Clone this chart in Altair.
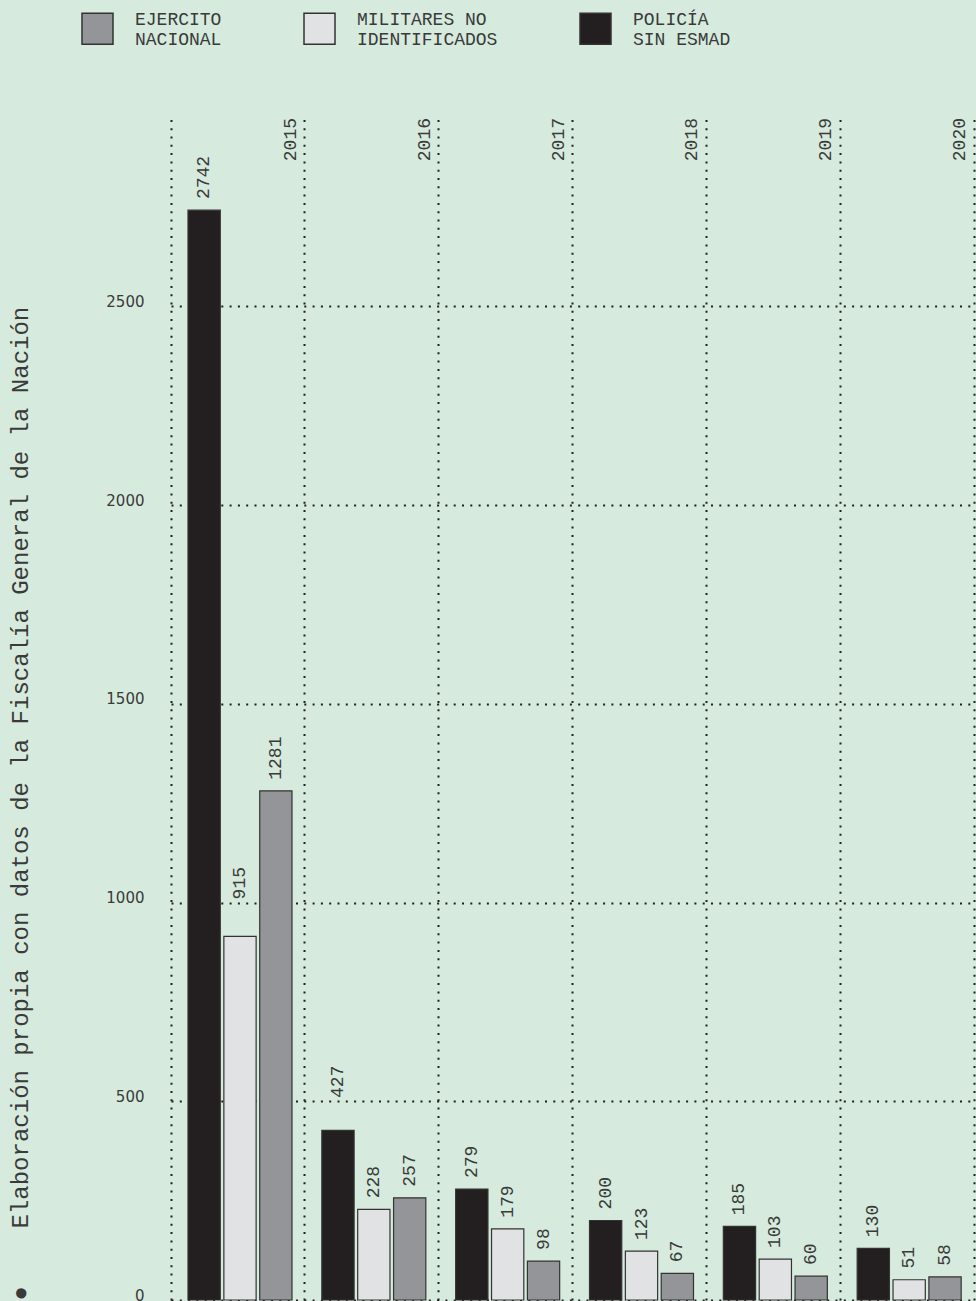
import altair as alt
import pandas as pd

# Casos por año y por institución
years = ["2015", "2016", "2017", "2018", "2019", "2020"]
policia = [2742, 427, 279, 200, 185, 130]
militares = [915, 228, 179, 123, 103, 51]
ejercito = [1281, 257, 98, 67, 60, 58]

series = ["EJERCITO|NACIONAL", "MILITARES NO|IDENTIFICADOS", "POLICÍA|SIN ESMAD"]
series_colors = ["#939598", "#e1e2e3", "#231f20"]
bar_order = [series[2], series[1], series[0]]
y_ticks = [0, 500, 1000, 1500, 2000, 2500]
caption = "●\u00a0\u00a0\u00a0\u00a0Elaboración propia con datos de la Fiscalía General de la Nación"

rows = []
for i, yr in enumerate(years):
    for name, vals in zip(series, [ejercito, militares, policia]):
        rows.append({"year": yr, "grupo": name, "valor": vals[i]})
df = pd.DataFrame(rows)
df_years = pd.DataFrame({"year": years})

MONO = "Liberation Mono"
INK = "#231f20"
TEXT = "#3a3a3a"
DOTS = [2, 6.3]

y_scale = alt.Scale(domain=[0, 2974], nice=False, zero=True)
y_axis = alt.Axis(
    values=y_ticks, format="d", grid=True, ticks=False, labelPadding=27,
    labelFont="DejaVu Sans", labelFontSize=15, labelColor=TEXT,
    labelBaseline="alphabetic",
    domain=True, domainColor=INK, domainWidth=2, domainDash=DOTS,
    title=caption, titleX=-151, titleY=1182, titleAngle=270,
    titleAlign="left", titleBaseline="middle", titleFont=MONO,
    titleFontSize=24, titleFontWeight="normal", titleColor=TEXT,
)

x_enc = alt.X(
    "year:N", sort=years,
    scale=alt.Scale(paddingInner=0, paddingOuter=0),
    axis=alt.Axis(orient="top", grid=True, bandPosition=1, labels=False,
                  ticks=False, domain=False, title=None),
)
xoff_enc = alt.XOffset(
    "grupo:N", sort=bar_order,
    scale=alt.Scale(range=[17, 121], paddingInner=0.1, paddingOuter=0),
)

bars = alt.Chart(df).mark_bar(stroke="#333333", strokeWidth=1.2).encode(
    x=x_enc,
    xOffset=xoff_enc,
    y=alt.Y("valor:Q", scale=y_scale, axis=y_axis),
    color=alt.Color(
        "grupo:N",
        scale=alt.Scale(domain=series, range=series_colors),
        legend=alt.Legend(
            title=None, orient="none", legendX=-90, legendY=-106,
            direction="horizontal", symbolType="square", symbolSize=961,
            symbolStrokeColor="#333333", symbolStrokeWidth=1.5,
            labelFont=MONO, labelFontSize=18, labelColor=TEXT,
            labelBaseline="bottom",
            labelOffset=21, columnPadding=79,
            labelExpr="split(datum.label, '|')",
            labelLimit=400, padding=0,
        ),
    ),
)

# Value labels sit just above each bar; a label that would run across a
# gridline is lifted to start just above that gridline instead.
values = alt.Chart(df).transform_calculate(
    start="datum.valor + 28",
    g="ceil(datum.start / 500) * 500",
    fin="datum.start + length(toString(datum.valor)) * 27",
    pos="datum.fin > datum.g ? datum.g + 8 : datum.start",
).mark_text(
    angle=270, align="left", baseline="middle",
    font=MONO, fontSize=18, color=TEXT,
).encode(
    x=x_enc, xOffset=xoff_enc,
    y=alt.Y("pos:Q", scale=y_scale, axis=y_axis),
    text="valor:Q",
)

year_labels = alt.Chart(df_years).mark_text(
    angle=270, align="right", baseline="middle", dy=-14,
    font=MONO, fontSize=18, color=TEXT,
).encode(
    x=alt.X("year:N", sort=years, bandPosition=1),
    y=alt.value(0),
    text="year:N",
)

chart = (
    alt.layer(bars, values, year_labels)
    .properties(
        width=803, height=1182,
        autosize=alt.AutoSizeParams(type="none"),
        padding={"left": 171, "top": 118, "right": 2, "bottom": 1},
        background="#d6ebdd",
    )
    .configure_view(stroke=None)
    .configure_axis(gridColor=INK, gridWidth=2, gridDash=DOTS, gridOpacity=1)
)

chart.save("out.html", embed_options={"renderer": "svg", "actions": False})
